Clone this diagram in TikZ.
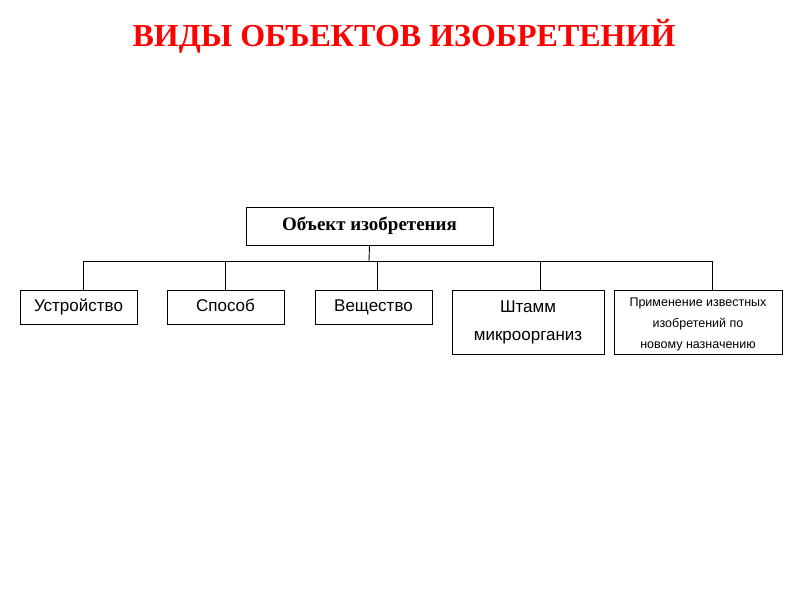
\documentclass[tikz,border=0pt]{standalone}
\usepackage{fontspec}
\setmainfont{Liberation Serif}
\newfontfamily\sansf{Liberation Sans}
\begin{document}
\begin{tikzpicture}[x=1pt,y=-1pt,
  box/.style={draw,line width=0.9pt,inner sep=0pt,align=center,text height=12pt,text depth=3pt,font=\sansf\fontsize{17}{26}\selectfont},
  conn/.style={line width=0.9pt}]
\useasboundingbox (0,0) rectangle (800,600);
\node[font=\bfseries\fontsize{32}{36}\selectfont,text=red] (title) at (404,36) {ВИДЫ ОБЪЕКТОВ ИЗОБРЕТЕНИЙ};
\node[box,minimum width=247pt,minimum height=38pt,font=\bfseries\fontsize{19}{22}\selectfont] (top) at (369.5,226) {Объект изобретения};
\node[box,minimum width=117pt,minimum height=34pt] (a) at (78.5,307) {Устройство};
\node[box,minimum width=117pt,minimum height=34pt] (b) at (225.5,307) {Способ};
\node[box,minimum width=117pt,minimum height=34pt] (c) at (373.5,307) {Вещество};
\node[draw,line width=0.9pt,minimum width=152pt,minimum height=64pt,inner sep=0pt,align=center,font=\sansf\fontsize{17}{28}\selectfont] (d) at (528,322) {Штамм\\микроорганиз};
\node[draw,line width=0.9pt,minimum width=168pt,minimum height=64pt,inner sep=0pt] (e) at (698,322) {};
\begin{scope}
\clip (615,291) rectangle (781,351);
\node[align=center,font=\sansf\fontsize{12.5}{21}\selectfont,anchor=north] (et) at (698,294) {Применение известных\\изобретений по\\новому назначению};
\end{scope}
\coordinate (bus) at (369,261);
\draw[conn] (top.south) -- (bus);
\draw[conn] (bus) -| ([xshift=4.5pt]a.north);
\draw[conn] (bus) -| (b.north);
\draw[conn] (bus) -| ([xshift=3.5pt]c.north);
\draw[conn] (bus) -| ([xshift=12pt]d.north);
\draw[conn] (bus) -| ([xshift=14pt]e.north);
\end{tikzpicture}
\end{document}
